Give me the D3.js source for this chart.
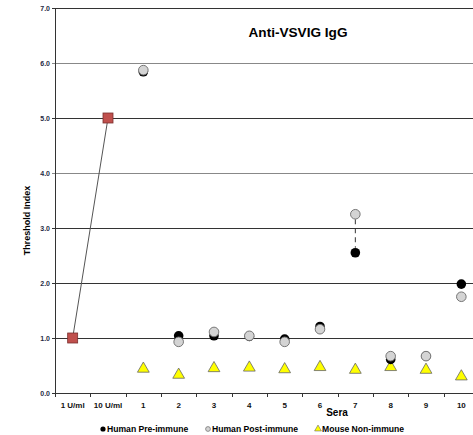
<!DOCTYPE html>
<html lang="en">
<head>
  <meta charset="UTF-8" />
  <title>Anti-VSVIG IgG</title>
  <style>
    body { margin: 0; background: #fff; }
    text { font-family: "Liberation Sans", Arial, sans-serif; font-weight: bold; }
    .grid line { stroke: #444; stroke-width: 1px; }
    .tick-label { font-size: 7px; fill: #1f2a44; }
    .cat-label { font-size: 8px; fill: #111; }
  </style>
  <script src="https://d3js.org/d3.v7.min.js"></script>
</head>
<body>
  <div id="chart"></div>
  <script type="text/javascript">
    const categories = ["1 U/ml", "10 U/ml", "1", "2", "3", "4", "5", "6", "7", "8", "9", "10"];
    const standardCats = ["1 U/ml", "10 U/ml"];
    const standardValues = [1.0, 5.0];
    const seraCats = ["1", "2", "3", "4", "5", "6", "7", "8", "9", "10"];
    const preImmune = [5.84, 1.04, 1.04, 1.03, 0.98, 1.21, 2.55, 0.61, 0.67, 1.98];
    const postImmune = [5.87, 0.93, 1.11, 1.04, 0.93, 1.16, 3.25, 0.67, 0.67, 1.75];
    const mouseNonImmune = [0.44, 0.33, 0.45, 0.46, 0.43, 0.47, 0.42, 0.47, 0.42, 0.30];
    const yTicks = [0, 1, 2, 3, 4, 5, 6, 7];

    const W = 473, H = 435;
    const margin = { top: 8, left: 55, bottom: 42 };
    const plotRight = 479;

    const svg = d3.select("#chart").append("svg")
      .attr("width", W)
      .attr("height", H);

    const x = d3.scaleBand().domain(categories).range([margin.left, plotRight]);
    const y = d3.scaleLinear().domain([0, 7]).range([H - margin.bottom, margin.top]);

    // gridlines
    svg.append("g").attr("class", "grid")
      .selectAll("line")
      .data(yTicks)
      .enter().append("line")
      .attr("x1", margin.left - 3)
      .attr("x2", plotRight)
      .attr("y1", d => Math.round(y(d)) + 0.5)
      .attr("y2", d => Math.round(y(d)) + 0.5)
      .style("stroke", d => (d === 4 || d === 6) ? "#888" : "#333");

    // y axis line
    svg.append("line")
      .attr("x1", margin.left + 0.5).attr("x2", margin.left + 0.5)
      .attr("y1", y(7)).attr("y2", y(0))
      .attr("stroke", "#333");

    // y tick labels
    svg.selectAll(".tick-label")
      .data(yTicks)
      .enter().append("text")
      .attr("class", "tick-label")
      .attr("x", margin.left - 5)
      .attr("y", d => y(d) + 2.5)
      .attr("text-anchor", "end")
      .text(d => d.toFixed(1));

    // x ticks at band boundaries
    const bounds = categories.map(c => x(c)).concat([plotRight]);
    svg.selectAll(".xtick")
      .data(bounds)
      .enter().append("line")
      .attr("class", "xtick")
      .attr("x1", d => Math.round(d) + 0.5).attr("x2", d => Math.round(d) + 0.5)
      .attr("y1", y(0)).attr("y2", y(0) + 4)
      .attr("stroke", "#333");

    svg.selectAll(".cat-label")
      .data(categories)
      .enter().append("text")
      .attr("class", "cat-label")
      .attr("x", d => x(d) + x.bandwidth() / 2)
      .attr("y", y(0) + 15)
      .attr("text-anchor", "middle")
      .text(d => d);

    // axis titles
    svg.append("text")
      .attr("x", 337).attr("y", 416)
      .attr("text-anchor", "middle")
      .style("font-size", "10px")
      .text("Sera");

    svg.append("text")
      .attr("transform", `translate(30,${(y(7) + y(0)) / 2 + 20}) rotate(-90)`)
      .attr("text-anchor", "middle")
      .style("font-size", "9px")
      .text("Threshold Index");

    svg.append("text")
      .attr("x", 298).attr("y", 37)
      .attr("text-anchor", "middle")
      .style("font-size", "13.6px")
      .text("Anti-VSVIG IgG");

    const cx = c => x(c) + x.bandwidth() / 2;

    // standards line + squares
    const std = standardCats.map((c, i) => ({ c, v: standardValues[i] }));
    svg.append("path")
      .datum(std)
      .attr("fill", "none")
      .attr("stroke", "#555")
      .attr("stroke-width", 1)
      .attr("d", d3.line().x(d => cx(d.c)).y(d => y(d.v)));
    svg.selectAll(".std")
      .data(std)
      .enter().append("rect")
      .attr("class", "std")
      .attr("x", d => cx(d.c) - 5)
      .attr("y", d => y(d.v) - 5)
      .attr("width", 10).attr("height", 10)
      .attr("fill", "#c0504d")
      .attr("stroke", "#7a2f2d")
      .attr("stroke-width", 0.8);

    // dashed connector for serum 7
    const i7 = seraCats.indexOf("7");
    svg.append("line")
      .attr("x1", cx("7")).attr("x2", cx("7"))
      .attr("y1", y(postImmune[i7]) + 5).attr("y2", y(preImmune[i7]) - 5)
      .attr("stroke", "#333")
      .attr("stroke-dasharray", "5,4");

    // mouse non-immune triangles
    const tri = d3.symbol().type(d3.symbolTriangle).size(60);
    svg.selectAll(".mouse")
      .data(seraCats)
      .enter().append("path")
      .attr("class", "mouse")
      .attr("transform", (c, i) => `translate(${cx(c)},${y(mouseNonImmune[i])})`)
      .attr("d", tri)
      .attr("fill", "#ffff00")
      .attr("stroke", "#666")
      .attr("stroke-width", 0.8);

    // pre-immune
    svg.selectAll(".pre")
      .data(seraCats)
      .enter().append("circle")
      .attr("class", "pre")
      .attr("cx", c => cx(c))
      .attr("cy", (c, i) => y(preImmune[i]))
      .attr("r", 4.8)
      .attr("fill", "#000");

    // post-immune
    svg.selectAll(".post")
      .data(seraCats)
      .enter().append("circle")
      .attr("class", "post")
      .attr("cx", c => cx(c))
      .attr("cy", (c, i) => y(postImmune[i]))
      .attr("r", 4.8)
      .attr("fill", "#d4d4d4")
      .attr("stroke", "#777")
      .attr("stroke-width", 1);

    // legend
    const ly = 432;
    const legend = svg.append("g").style("font-size", "8.6px");
    legend.append("circle").attr("cx", 103).attr("cy", ly - 3).attr("r", 2.6).attr("fill", "#000");
    legend.append("text").attr("x", 107).attr("y", ly).text("Human Pre-immune");
    legend.append("circle").attr("cx", 208).attr("cy", ly - 3).attr("r", 2.4)
      .attr("fill", "#d4d4d4").attr("stroke", "#777").attr("stroke-width", 0.8);
    legend.append("text").attr("x", 212).attr("y", ly).text("Human Post-immune");
    legend.append("path").attr("transform", `translate(318,${ly - 3})`)
      .attr("d", d3.symbol().type(d3.symbolTriangle).size(20))
      .attr("fill", "#ffff00").attr("stroke", "#666").attr("stroke-width", 0.6);
    legend.append("text").attr("x", 322).attr("y", ly).text("Mouse Non-immune");
  </script>
</body>
</html>
